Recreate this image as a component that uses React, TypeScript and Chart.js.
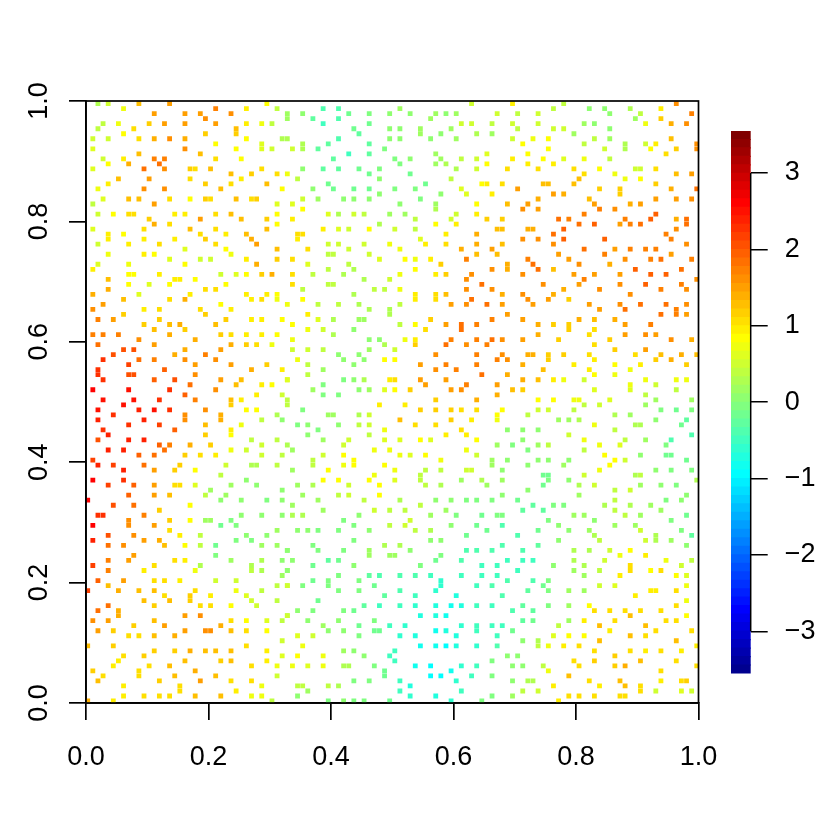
import React, { useEffect, useRef } from "react";
import { Chart, registerables } from "chart.js";

Chart.register(...registerables);

// Each entry: [row from top, column, z, column, z, ...] on the 120 x 120 grid
const topLeft: number[][] = [
[0,2,.3,4,.45,10,1.3,16,1.5,35,.85],[1,7,.75,25,1.7,31,.95,37,.4],[2,13,1.5,19,1.5,22,1.5,28,1.6,39,.2],[3,23,1.6,39,.2],
[4,3,.35,6,.7,12,1.2,15,1.5,19,1.5,25,1.5,31,.9,34,.7,36,.4],[5,2,.4,9,1.0,29,1.3],[6,7,.85,23,1.2,29,1.2],
[7,1,.5,4,.45,10,1.0,13,1.4,16,1.6,19,1.4,31,.85,38,.3,39,.3],[8,25,.85,34,.65],[9,1,.6,19,1.6,29,.8,34,.65,36,.45],[10,10,1.3,22,1.3],
[11,3,.5,7,.95,13,1.7,15,1.7,25,1.0,30,.8],[12,4,.8,8,1.35,14,1.8],[13,1,.65,11,1.8,15,1.6,20,1.2,21,1.1,24,1.3,34,1.0],
[14,28,1.3,32,1.2,37,1.1,39,.75],[15,6,1.3,12,1.5,20,1.1,30,.9],[16,4,.9,23,1.2,28,1.05,35,1.3],[17,2,.7,11,1.6,15,1.6,26,1.3,38,.85],
[19,3,.65,8,1.25,10,1.3,16,1.0,20,.85,23,1.2,24,1.1,29,1.3,32,1.0,33,1.2],[20,1,.35,13,1.5,37,.6],
[22,2,.45,5,.85,8,1.05,9,1.1,17,.9,19,.9,25,1.0,28,1.3,37,.85],[23,12,1.2,22,1.5,30,1.3,35,1.2],[24,13,1.35,16,1.1,37,.8],
[25,1,.6,11,1.1,20,1.3,25,1.0,35,1.3],[26,4,.95,7,.85,22,1.05,27,.95,31,1.3],[27,4,.95,11,.95,17,.9,23,1.2,32,1.35],
[28,2,.5,8,.95,14,1.1,25,1.0,33,1.5],[29,19,.65,27,.85,37,1.3],[30,4,.75,11,.9,13,.85,28,.7],[31,16,.6,22,.5,24,.45,31,.9,37,1.2],
[32,2,.65,8,.75,19,.85,33,1.35],[33,1,.9],[34,8,.85,9,.85,14,.95,26,.5,29,.65,31,.8,34,1.2,36,1.35],[35,4,1.3,17,.9,18,.9,21,.85],
[36,8,.85,12,.65,16,.85,27,.85],[37,4,1.35,23,1.05,25,1.1],[38,1,1.4,10,.65,20,.95,31,.9,35,.9,37,.8],
[39,7,1.3,16,1.05,19,1.35,32,.95,34,1.1,37,.75],[40,3,1.5,26,.8,39,.75],
];

const topMiddle: number[][] = [
[0,75,.55],[1,46,-.4,49,-.35,61,.15],[2,42,.1,51,-.2,55,-.1,59,.05,63,.1,68,.15,70,.1,72,.15],[3,44,-.25,49,-.4,67,.15],
[4,46,-.45,55,-.2,73,.45,75,.5,79,.35],[5,52,-.15,59,.05,61,.05,65,.15,71,.2],[6,53,-.3,65,.15,69,.05,76,.3,79,.2],
[7,49,-.35,59,.05,61,.05,67,.1,72,.2],[8,42,.3,47,-.3,55,-.3],[9,40,.45,42,.3,45,-.25,58,-.1],[10,51,-.45,55,-.25,68,.15,78,.6],
[11,48,-.3,60,-.05,63,.05,69,.2,73,.4,76,.5],[12,61,-.05,68,.15,70,.25,78,.85],[13,42,.1,46,-.25,49,-.25,53,-.2,57,-.05,72,.3,76,.5],
[14,55,-.2,63,-.15],[15,41,.4,57,0,71,.35],[16,47,-.2,66,-.15,77,.85,78,.9],[17,44,.05,48,-.15,52,-.15,55,-.15,60,-.05,64,-.1,73,.6],
[18,57,0,69,.1,74,.65,79,.95],[19,42,.55,45,.15,50,.1,52,.05,55,.05,65,-.05],[20,40,.6,61,.05,68,.2,76,.85],[21,42,.85,68,.25],
[22,47,.6,49,.3,52,.45,54,.4,59,.2,62,.2,72,.5,76,.9],[23,40,.9,64,.35,71,.45,78,1.2],[24,57,.25,68,.85,72,.95],
[25,46,.9,49,.65,51,.55,55,.8,60,.55,64,.4],[26,41,1.0,42,1.0,70,.9,76,1.35],[27,41,.95,65,.65],
[28,47,.5,49,.45,54,.55,59,.7,66,.9,70,1.1,76,1.4],[29,43,1.0,51,.5,61,.7,73,1.35,79,1.55],[30,47,.4,48,.4,55,.45,76,1.25],
[31,40,1.0,57,.6,62,.8,64,.7,67,.9,74,1.75],[32,43,.6,51,.35,69,1.2],[33,47,.4,52,.3,64,.85,79,1.65],
[34,40,1.0,44,.4,50,.3,61,.7,68,.9,70,1.2,75,1.65],[35,54,.3,59,.55,74,1.6],[36,40,1.0,47,.35,48,.35,77,1.8],
[37,42,.35,56,.4,58,.4,61,.7,74,1.65,79,1.65],[38,52,.3,64,.95,68,1.0,70,1.25],[39,42,.85,64,.9,68,1.05,75,1.85],
[40,45,.4,49,.4,53,.3,61,.4,71,1.5,74,1.6,78,1.8],
];

const topRight: number[][] = [
[0,83,.9,93,.35,115,1.6],[1,91,.35,98,.05,101,.05,106,.25,112,.9],[2,80,.55,84,.4,88,.55,102,0,108,.35,118,1.7],[3,107,.15,112,1.2],
[4,83,.45,88,.55,97,.2,99,.1,109,.75,114,1.35,117,1.65],[5,84,.35,91,.55,93,.5,102,.1],[6,95,.2],
[7,83,.5,87,.75,90,.85,99,.35,102,.15,114,1.25],[8,85,.85,97,.35,105,.3,109,.45,111,.9,119,1.6],
[9,90,.85,101,.5,105,.3,110,.85,115,1.2,119,1.6],[10,86,.85,113,1.1],[11,83,.9,89,.8,93,.6,97,.75,102,.35],[12,86,.95,91,.9],
[13,82,1.1,88,1.0,95,1.0,100,.85,107,.55,108,.55,111,1.0],[14,97,1.1,103,.75,115,1.3,118,1.5],[15,96,1.3,105,.7,108,.85],
[16,81,1.1,89,1.25,90,1.25,95,1.3,111,1.15],[17,84,1.5,100,1.15,104,1.15,114,1.4,119,1.8],[18,91,1.5,93,1.4,104,1.15],
[19,88,1.4,98,1.3,111,1.45,115,1.55,118,1.6],[20,82,1.3,86,1.55,99,1.5,106,1.35,108,1.45],[21,85,1.6,88,1.5,100,1.75,103,1.65],
[22,97,1.75,111,1.9],[23,81,1.2,92,1.8,94,1.75,105,1.75,110,1.9,115,1.4,117,1.85],[24,96,1.85,99,1.9,104,1.55,106,1.75,108,1.85,117,1.85],
[25,80,1.25,81,1.3,86,1.35,87,1.35,93,1.9,115,1.6],[26,91,1.8,113,1.7],[27,85,1.65,88,1.6,93,1.95,101,1.9,114,1.75],
[28,81,1.25,91,1.65,117,1.6],[29,97,1.85,103,1.55,106,1.7,109,1.7,111,1.7],[30,80,1.25,92,1.5,101,1.7,114,1.55],
[31,86,1.75,94,1.55,105,1.6,110,1.75,112,1.85,118,1.75],[32,82,1.4,87,1.8,96,1.6,102,1.35],[33,82,1.4,88,1.8,91,1.3,107,1.9,116,1.8],
[34,85,1.65,95,1.5,99,1.55,104,1.55,110,1.95,113,1.95],[35,97,1.75,119,1.65],[36,89,1.6,96,1.5,104,1.6,109,1.9,116,1.75],
[37,93,1.4,100,1.6,112,1.75,117,1.65],[38,81,1.4,85,1.65,91,1.35,106,1.6],[39,86,1.6,90,1.45,94,1.2],
[40,81,1.5,87,1.55,98,1.55,104,1.6,108,1.85,113,1.85,117,1.6],
];

const middleLeft: number[][] = [
[41,1,1.65,11,.9,14,1.0,22,1.0,28,.9],[42,7,1.2,23,1.2],[43,2,1.7,5,1.5,14,1.2,27,1.2,32,.9,34,.9,38,.85],[44,11,1.15,16,1.25,18,1.4,25,1.25],
[45,13,1.25,19,1.2],[46,1,1.75,3,1.7,6,1.7,16,1.4,26,1.2,28,1.1,31,.9,34,.9,37,.85],[47,10,1.6,21,1.4],
[48,2,1.85,13,1.55,28,1.35,31,1.2,33,1.1,36,.75],[49,7,2.05,9,2.05,19,1.4,26,1.55],[50,5,2.1,17,1.35,23,1.7],
[51,3,2.3,10,1.85,13,1.7,19,1.6,25,1.6],[52,8,2.2,21,1.55,28,1.45,35,1.2],[53,2,2.3,15,1.9,32,1.35,38,.9],[54,2,2.3,8,2.1,9,2.1,21,1.6],
[55,3,2.3,13,1.95,17,2.05,26,1.45,30,1.3,39,.6],[56,20,1.85,29,1.25,34,.95,36,.85],[57,1,2.6,8,2.5,16,2.25,25,1.6],[58,19,1.9,33,.9,38,.55],
[59,3,2.55,9,2.5,14,2.3,21,1.75,28,1.25,30,.9,39,.35],[60,7,2.5,28,1.2,39,.35],[61,2,2.5,10,2.4,13,2.5,16,2.3,23,1.6,31,.85,33,.8],
[62,5,2.25,19,1.6,26,1.4,37,.25],[63,2,2.4,11,2.35,19,1.6,26,1.4,34,.4,38,.1],[64,8,2.3,14,2.2,23,1.25,30,.7],[65,3,2.3,17,1.9,28,.9],
[66,4,2.35,23,1.15,28,.85],[67,2,2.05,8,2.35,11,2.4,32,.35,37,.4],[68,14,1.95,16,1.75,20,1.35,24,1.2,34,.55,39,.3],
[69,4,2.4,7,2.4,15,1.8,28,.75,31,.5],[70,10,1.9,13,1.85,19,1.15,22,1.05,25,.95,34,.5,38,.35],[71,1,2.15],
[72,2,2.35,5,2.2,11,1.85,18,1.2,27,.5,32,.3,33,.3,37,.35],[73,7,2.4,13,1.5,17,1.2,21,.85],[74,26,.4],[75,1,2.6,7,2.3,31,.1],
[76,4,2.2,9,1.9,13,1.5,17,1.1,18,1.05,21,.65,28,.2,33,.1],[77,24,.2,38,.1],[78,8,1.95,13,1.5,16,1.25,23,.4,27,.15],
[79,0,2.6,26,0,30,.05,35,-.05,38,.05],[80,5,2.0,9,1.85,20,.85],
];

const middleCentre: number[][] = [
[41,55,.25,59,.3],[42,43,.95,59,.3],[43,45,.6,48,.3,53,.15,54,.15,67,1.2,79,1.7],[44,40,.8,61,.35,64,.85,70,1.45,73,1.85,76,1.75],
[45,43,.75,46,.5,52,.05,66,1.1,73,1.85],[46,48,.3],[47,40,.75,55,.1,57,.1,62,.75,64,.95,71,1.75,76,1.75,79,1.8],
[48,58,.25,64,1.2,70,1.8,74,1.65,78,1.75],[49,40,.55,43,.55,46,.4,55,.2,60,.55],[50,49,.05,53,.1,68,1.65,76,1.7],
[51,41,.7,50,.05,54,.05,58,.8,60,.8],[52,43,.4,52,.05,65,1.55,70,1.75,76,1.75],[53,46,.15,68,1.65,72,1.75],[54,43,.4,77,1.8],
[55,39,.6,50,-.05,52,.05,54,.25,59,.9,60,1.0,65,1.5,70,1.55],[56,46,-.05,66,1.55,74,1.75],
[57,44,.15,53,.1,55,.2,58,.6,60,.8,63,1.2,71,1.5,73,1.6],[58,46,-.05,49,-.05],[59,68,1.2,76,1.35],[60,57,.9,62,.95],
[61,42,-.05,65,1.15,68,1.2,71,1.15,73,1.1,76,1.0],[62,47,.15,48,.15,53,.3,55,.45],[63,61,1.25,71,1.2,75,.9],
[64,41,-.05,43,0,49,.1,53,.35,55,.45,64,1.05,68,1.1],[65,45,-.05,58,.75,73,1.1],[66,43,.05,55,.35,70,.9,74,.95],
[67,46,.15,51,.5,58,.65,61,.65,65,.85,67,.6,76,.8],[68,50,.45],[69,40,.2,56,.75,59,.75,74,.75],
[70,46,.45,50,.85,61,.7,63,.65,66,.8,76,.45],[71,44,.4,52,.85,69,.7,79,.2],[72,44,.4,50,.7,52,.85,58,.8,79,.2],
[73,40,.2,47,.8,60,.7,66,.4,69,.4,74,.5,75,.5],[74,56,.75,65,.4],[75,46,.85,49,.85,55,.8,60,.65,65,.4,73,.2,77,.3],
[76,41,.2,44,.25,51,.45,57,.85,66,.35,69,.25,78,.2],[78,42,.15,49,.4,51,.5,57,.85],
[79,45,.15,54,.35,61,.3,68,.05,71,.05,74,-.05,76,-.05,79,-.1],[80,40,.15,65,.35],
];

const middleRight: number[][] = [
[41,100,1.55,105,1.85,115,1.75],[42,82,1.55,112,1.85,115,1.75,117,1.55],[43,85,1.45,96,1.35,99,1.3,103,1.35],
[44,88,1.4,91,1.2,94,1.15,105,1.55,110,1.75],[45,94,1.15,99,1.1],[46,88,1.35,98,1.1,105,1.45,109,1.6,111,1.5],
[47,81,1.6,85,1.5,92,1.2,102,1.15,114,1.65,118,1.4],[48,99,1.0],[49,103,1.15,109,1.45],
[50,81,1.6,86,1.4,87,1.35,90,1.2,93,1.2,98,1.05,107,1.1,112,1.25,116,1.4,119,1.25],[51,80,1.7,82,1.65,90,1.2,99,.95,111,1.15,114,1.35],
[52,85,1.35,95,.9,103,.85,108,.9,117,1.15],[53,89,1.25,98,.9,106,.7],[54,82,1.4,99,.8,103,.75],
[55,85,1.4,88,1.25,91,.9,93,.75,97,.5,109,.75,115,.75,117,.75],[56,80,1.55,106,.75,111,.55],[57,83,1.3,85,1.2,99,.6,106,.65,115,.4],
[58,80,1.4,109,.35],[59,88,.8,91,.8,95,.7,96,.7,102,.6,111,.2,118,.15],[60,97,.4,100,.5,109,.15],
[61,81,.85,88,.55,90,.45,95,.35,112,-.1,115,-.15,118,-.1],[62,80,.8,86,.35,103,.3,106,.2],[63,80,.7,92,.2,94,.2,96,.3,111,.05,117,-.25],
[64,99,.75,107,.3,108,.3,116,-.15],[65,82,.05,85,.05,88,.1,103,.35],[66,94,.5,118,-.4],[67,85,.05,97,.75,105,.4,109,.15,114,-.35],
[68,80,.2,83,-.05,88,.2,90,.4,100,.75,104,.6,113,-.1],[69,86,-.05,97,.4],[70,101,.85,108,.05,113,-.15,114,-.15],
[71,82,0,88,.05,90,.1,94,.1,103,.8,105,.5,117,-.2],[72,86,.1,93,.15,102,.85],[73,81,.1,100,.7,111,.1,114,-.05,118,-.05],
[74,89,-.15,90,-.15,97,.45,107,.3,108,.35],[75,81,.2,90,-.1,94,.1,119,.3],[76,89,-.15,96,.3,99,.5,108,.2,112,.1,115,-.05],
[77,86,0,103,.4,106,.5],[78,81,.1,96,.2,117,.05],[79,84,-.2,103,.35,113,-.1,116,.1],[80,87,-.25,91,-.05,93,-.05,101,.3,106,.3,110,.2],
];

const bottomLeft: number[][] = [
[81,14,1.2],[82,2,2.3,3,2.3,11,1.75,30,.1,34,.05,38,.1],[83,8,1.6,16,1.15,20,.85,23,.2,24,.2,28,-.05],[84,1,2.6,8,1.6,13,1.5,26,-.15,29,-.05],
[85,16,1.1,37,.15],[86,4,2.1,9,1.6,18,.95,22,.4,31,.05,35,.1],[87,1,2.4,11,1.45,14,1.35,29,-.05,32,-.05],
[88,4,1.8,7,1.65,15,1.25,19,.8,22,.4,25,-.15,34,.15,37,.2],[89,39,-.05],[90,9,1.45,25,-.1],[91,4,1.75,8,1.45,17,1.0,19,.9,28,.2,34,.3,38,.05],
[92,1,2.2,13,1.05,22,.3,32,.3],[93,4,1.7,11,.95,21,.7,32,.35,34,.25,39,0],[94,38,.15],[95,2,1.95,7,1.55,13,1.0,15,1.0,18,.9,25,.5,29,.55],
[96,4,1.3,37,.35,39,.35],[97,0,2.2,6,1.35,10,1.25,13,1.25,21,1.0,29,.75,34,.35],[98,15,1.1,20,1.2,24,.9,31,.65],
[99,11,1.25,16,1.3,20,1.2,32,.55,37,.35],[100,4,1.8,13,1.2,22,1.1,24,1.05,28,.85,33,.55],[101,2,1.8,6,1.4],[102,6,1.4,19,1.5,22,1.6,39,.15],
[103,1,1.6,4,1.5,13,1.25,28,1.05,31,.85,35,.65,38,.4],[104,9,1.2,15,1.5,26,1.4],[105,2,1.45,5,1.2,19,1.5,23,1.65,24,1.65,28,1.25,31,1.0,35,.85],
[106,8,1.1,10,1.0,13,1.25,17,1.4],[107,38,.55],[108,0,1.3,5,1.2,31,1.1],[109,13,1.15,17,1.2,20,1.4,23,1.3,25,1.3,28,1.3,35,.95],
[110,7,1.1,11,1.15,38,.65],[111,6,.95,19,1.3,26,1.2,28,1.3,35,.95],[112,5,.95,12,1.0,16,1.3,32,1.05,37,.75],[113,1,1.2,10,1.05,21,1.35],
[114,3,1.05,10,1.05,17,1.3,25,1.3,37,.55],[115,2,1.25,14,1.15,22,1.45,28,1.1,32,1.0],[116,7,.95,18,1.1,34,.75],[117,18,1.1,29,.9],
[118,7,.9,11,1.0,14,1.0,16,1.05,21,1.3,26,1.25,32,.75,34,.7],[119,0,1.4,5,.95,36,.4],
];

const bottomCentre: number[][] = [
[81,46,.2,56,.5,59,.35,62,.4,70,.2],[82,40,.3,42,.3,53,.1,67,.15,72,-.05,77,-.2],[83,50,-.05,63,.55],[84,52,-.05,59,.4,62,.55,71,.05,76,-.15],
[85,41,.1,43,.05,45,-.1,49,-.05,55,.1,64,.4,67,.25,78,-.2],[86,74,-.2],[87,52,-.05,67,.05,69,.05],[88,44,-.1,58,.3,61,.3],
[89,39,.05,45,-.1,50,-.05,55,.15,63,0,74,-.35,76,-.35,79,-.4],[90,55,.15,59,.15,60,.15,69,-.05],[91,40,.05,47,-.25,49,-.15,68,-.2,73,-.4],
[92,44,-.15,52,.05,65,-.1,77,-.5],[93,39,.05],[94,49,-.1,55,-.3,57,-.35,61,-.4,64,-.4,67,-.5,73,-.55,77,-.5],[95,44,-.2,47,-.05,53,-.1,69,-.65],
[96,39,.45,42,-.05,47,-.05,56,-.15,69,-.65,76,-.45,79,-.4],[97,49,-.1,53,-.05,61,-.35,68,-.65],[98,58,-.3,64,-.55,72,-.7],[99,45,-.15],
[100,54,-.3,57,-.45,61,-.5,64,-.6,68,-.7,71,-.8,73,-.7,76,-.55,79,-.5],[101,41,.05,44,-.05,50,-.05,52,-.15],[102,39,.5,65,-.7,68,-.75,70,-.85],
[103,43,.1,49,0,56,-.1],[104,46,.2,53,-.15,59,-.5,62,-.6,73,-.6,76,-.5,79,-.45],[105,47,.1,50,.1,56,-.15,57,-.15,68,-.8,70,-.75,76,-.5],
[106,41,.65,44,.5,53,-.05,61,-.6,64,-.7,72,-.7],[108,42,.7,65,-.85,68,-.85,70,-.9,72,-.75,76,-.6],[109,50,.15,52,.05,60,-.5],
[110,41,.85,46,.75,54,0,59,-.45],[111,60,-.5,79,-.05],[112,40,.75,43,.6,46,.7,50,.3,51,.3,56,-.1,64,-.85,67,-1.0,73,-.6,76,-.45],
[113,58,-.15,71,-.85],[114,58,-.15,67,-1.0,69,-1.0,75,-.45,79,-.05],[115,52,-.05,55,-.1,61,-.55,72,-.65],[116,41,.35,42,.35,47,.35,49,.3,63,-.7],
[117,43,.2,61,-.5,73,-.55],[118,41,.1,63,-.6,68,-.75,79,-.05],[119,47,-.05,50,0,52,-.05,54,-.05,59,-.15,71,-.6,77,-.1],
];

const bottomRight: number[][] = [
[81,85,-.3,89,-.25,103,.4,112,.15],[82,80,-.05,81,-.05,95,.15,97,.15,105,.35,108,.2,117,-.15],[83,90,-.05,99,.1,114,-.05],[84,81,-.35,92,.05,103,.2,107,.2],
[85,88,-.2,94,.1,98,.15,108,.45,116,-.05],[86,84,-.35,99,.3,111,.3,118,-.25],[87,92,.1,100,.35,109,.5,111,.3,114,.15],[88,81,-.4,88,-.3,117,0],
[89,85,-.4,95,.3,98,.25,102,.45,106,.85],[90,104,.7,109,.95],[91,82,-.55,85,-.55,87,-.5,95,.25,101,.5,113,.75,118,.4],
[92,80,-.45,91,.05,97,.25,106,1.0,116,.45],[93,84,-.5,95,.2,100,.4,106,1.0,110,.85,112,1.0],[94,80,-.5,97,.2,104,.9,115,.85,117,.65],
[95,82,-.4,87,-.35,90,-.05],[96,89,-.2,100,.5,103,.6,117,.7],[97,86,-.3,90,-.05,94,.15,97,.2,110,.9,111,.9,115,1.1],[98,81,-.4,107,.9],[99,117,.7],
[100,85,-.3,90,-.05,94,.15,98,.8,115,1.05],[101,83,-.4,87,-.3,99,1.0,102,1.0,105,1.1,108,1.1,112,1.05],[102,106,1.3,117,.85],
[103,85,-.3,87,-.2,94,.2,97,.9,103,1.0,113,1.0,115,1.0],[104,81,-.5,92,.35,100,1.25,109,1.25],[105,83,-.15,102,.95,111,1.05,118,1.05],
[106,80,-.5,91,.6,94,.85,97,.85,106,1.3,109,1.05],[107,85,.05,88,.25,100,1.25,115,1.3],[108,80,-.35,88,.35,90,.7,93,.9,96,1.05,119,.95],
[109,99,1.0,106,1.0,109,.95,112,1.0,116,.95],[110,82,.05,84,.05,103,1.15],[111,95,1.0,99,1.2,108,1.25,115,1.1],
[112,83,.1,85,.1,89,.4,96,1.0,103,1.2,105,1.4,119,1.05],[113,90,.7,112,1.1],[114,94,1.3],[115,83,.1,86,.3,87,.3,98,1.05,104,1.25,112,.9,116,1.0,117,1.2],
[116,91,.95,100,.95,105,1.3,108,1.0],[117,85,.4,88,.5,108,1.0,111,.55,116,.6,118,.5],[118,83,.15,94,1.1,96,1.1,99,1.1,104,1.05,105,1.0],[119,92,.95],
];

const palette = ["#00008F","#00009F","#0000AF","#0000BF","#0000CF","#0000DF","#0000EF","#0000FF","#0010FF","#0020FF","#0030FF","#0040FF","#0050FF","#0060FF","#0070FF","#0080FF","#008FFF","#009FFF","#00AFFF","#00BFFF","#00CFFF","#00DFFF","#00EFFF","#00FFFF","#10FFEF","#20FFDF","#30FFCF","#40FFBF","#50FFAF","#60FF9F","#70FF8F","#80FF80","#8FFF70","#9FFF60","#AFFF50","#BFFF40","#CFFF30","#DFFF20","#EFFF10","#FFFF00","#FFEF00","#FFDF00","#FFCF00","#FFBF00","#FFAF00","#FF9F00","#FF8F00","#FF8000","#FF7000","#FF6000","#FF5000","#FF4000","#FF3000","#FF2000","#FF1000","#FF0000","#EF0000","#DF0000","#CF0000","#BF0000","#AF0000","#9F0000","#8F0000","#800000"];
const zLow = -3.553;
const zHigh = 3.55;
const barTicks = [-3, -2, -1, 0, 1, 2, 3];
const axisTicks = [0, 0.2, 0.4, 0.6, 0.8, 1];
const FONT = "'Liberation Sans', Arial, sans-serif";

const colorOf = (z: number) => {
  const i = Math.floor(((z - zLow) / (zHigh - zLow)) * palette.length);
  return palette[Math.min(palette.length - 1, Math.max(0, i))];
};

const points: { x: number; y: number }[] = [];
const colors: string[] = [];
[topLeft, topMiddle, topRight, middleLeft, middleCentre, middleRight, bottomLeft, bottomCentre, bottomRight].forEach((panel) => {
  panel.forEach((row) => {
    for (let k = 1; k < row.length; k += 2) {
      points.push({ x: 0.0028 + row[k] * 0.008356, y: 0.0033 + (119 - row[0]) * 0.008339 });
      colors.push(colorOf(row[k + 1]));
    }
  });
});

const boxPlugin = {
  id: "box",
  afterDraw(chart: any) {
    const { ctx, chartArea: a } = chart;
    ctx.save();
    ctx.strokeStyle = "#000";
    ctx.lineWidth = 1.7;
    ctx.strokeRect(a.left, a.top, a.right - a.left, a.bottom - a.top);
    ctx.restore();
  },
};

const barAxisPlugin = {
  id: "barAxis",
  afterDraw(chart: any) {
    const { ctx, chartArea: a, scales } = chart;
    ctx.save();
    ctx.strokeStyle = "#000";
    ctx.lineWidth = 1.5;
    ctx.beginPath();
    ctx.moveTo(a.right, scales.y.getPixelForValue(barTicks[barTicks.length - 1]));
    ctx.lineTo(a.right, scales.y.getPixelForValue(barTicks[0]));
    ctx.stroke();
    ctx.restore();
  },
};

export default function App() {
  const mainRef = useRef<HTMLCanvasElement>(null);
  const barRef = useRef<HTMLCanvasElement>(null);

  useEffect(() => {
    const tickFont = { family: FONT, size: 27 };
    const main = new Chart(mainRef.current!, {
      type: "scatter",
      data: {
        datasets: [
          {
            data: points,
            pointStyle: "rect",
            pointRadius: 3.4,
            pointHoverRadius: 3.4,
            pointBorderWidth: 0,
            pointBackgroundColor: colors,
            pointBorderColor: colors,
          },
        ],
      },
      options: {
        responsive: false,
        animation: false,
        events: [],
        layout: { padding: { top: 101, right: 131.5, left: 0, bottom: 0 } },
        plugins: { legend: { display: false }, tooltip: { enabled: false } },
        scales: {
          x: {
            type: "linear",
            min: 0,
            max: 1,
            afterFit: (s: any) => { s.height = 127; },
            afterBuildTicks: (s: any) => { s.ticks = axisTicks.map((value) => ({ value })); },
            grid: { drawOnChartArea: false, color: "#000", lineWidth: 1.7, tickLength: 17 },
            border: { color: "#000", width: 1.7 },
            ticks: { color: "#000", font: tickFont, padding: 21, maxRotation: 0, autoSkip: false, callback: (v: any) => Number(v).toFixed(1) },
          },
          y: {
            type: "linear",
            min: 0,
            max: 1,
            afterFit: (s: any) => { s.width = 86; },
            afterBuildTicks: (s: any) => { s.ticks = axisTicks.map((value) => ({ value })); },
            grid: { drawOnChartArea: false, color: "#000", lineWidth: 1.7, tickLength: 17 },
            border: { color: "#000", width: 1.7 },
            ticks: { color: "#000", font: tickFont, padding: 11, minRotation: 90, maxRotation: 90, crossAlign: "center", autoSkip: false, callback: (v: any) => Number(v).toFixed(1) },
          },
        },
      } as any,
      plugins: [boxPlugin],
    });

    const step = (zHigh - zLow) / palette.length;
    const bar = new Chart(barRef.current!, {
      type: "bar",
      data: {
        labels: ["z"],
        datasets: palette.map((c, i) => ({
          data: [[zLow + i * step, zLow + (i + 1) * step]] as any,
          backgroundColor: c,
          borderWidth: 0,
          inflateAmount: 0.6,
          barPercentage: 1,
          categoryPercentage: 1,
          grouped: false,
        })),
      },
      options: {
        responsive: false,
        animation: false,
        events: [],
        layout: { padding: { top: 131, left: 731, bottom: 156.5, right: 0 } },
        plugins: { legend: { display: false }, tooltip: { enabled: false } },
        scales: {
          x: { display: false },
          y: {
            position: "right",
            min: zLow,
            max: zHigh,
            afterFit: (s: any) => { s.width = 79.3; },
            afterBuildTicks: (s: any) => { s.ticks = barTicks.map((value) => ({ value })); },
            grid: { drawOnChartArea: false, color: "#000", lineWidth: 1.5, tickLength: 17 },
            border: { display: false },
            ticks: { color: "#000", font: tickFont, padding: 17, autoSkip: false, callback: (v: any) => (v < 0 ? "\u2212" + Math.abs(v) : String(v)) },
          },
        },
      } as any,
      plugins: [barAxisPlugin],
    });

    return () => {
      main.destroy();
      bar.destroy();
    };
  }, []);

  const style: React.CSSProperties = { position: "absolute", left: 0, top: 0 };
  return (
    <div style={{ position: "absolute", left: 0, top: 0, width: 830, height: 830, background: "#fff" }}>
      <canvas ref={mainRef} width={830} height={830} style={style} />
      <canvas ref={barRef} width={830} height={830} style={style} />
    </div>
  );
}
